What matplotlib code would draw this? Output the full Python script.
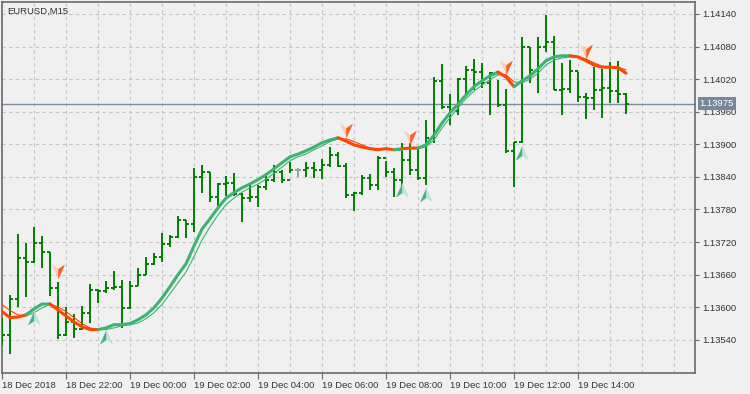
import numpy as np
import matplotlib
matplotlib.use("Agg")
import matplotlib.pyplot as plt
from matplotlib.path import Path
from matplotlib.transforms import blended_transform_factory

# EURUSD M15, 79 bars from 18 Dec 20:00 to 19 Dec 15:30
first_open = 1.13568
highs = [
    1.13581, 1.13623, 1.13735, 1.13719, 1.13748, 1.13732, 1.13702, 1.13647, 1.13601, 1.13588,
    1.13603, 1.13643, 1.13634, 1.13649, 1.13667, 1.13651, 1.13649, 1.13673, 1.13693, 1.13700,
    1.13737, 1.13733, 1.13768, 1.13761, 1.13857, 1.13862, 1.13849, 1.13829, 1.13842, 1.13847,
    1.13811, 1.13825, 1.13825, 1.13847, 1.13862, 1.13853, 1.13868, 1.13857, 1.13868, 1.13868,
    1.13873, 1.13895, 1.13886, 1.13866, 1.13812, 1.13844, 1.13846, 1.13879, 1.13870, 1.13857,
    1.13903, 1.13903, 1.13895, 1.13945, 1.14024, 1.14048, 1.13993, 1.14022, 1.14044, 1.14057,
    1.14050, 1.14033, 1.14019, 1.14002, 1.13905, 1.14098, 1.14079, 1.14098, 1.14138, 1.14100,
    1.14050, 1.14055, 1.14033, 1.13995, 1.14042, 1.14039, 1.14052, 1.14054, 1.13995,
]
lows = [
    1.13531, 1.13514, 1.13601, 1.13619, 1.13682, 1.13673, 1.13621, 1.13542, 1.13548, 1.13544,
    1.13559, 1.13571, 1.13608, 1.13627, 1.13632, 1.13562, 1.13597, 1.13640, 1.13660, 1.13678,
    1.13684, 1.13711, 1.13728, 1.13728, 1.13739, 1.13811, 1.13794, 1.13787, 1.13805, 1.13805,
    1.13757, 1.13794, 1.13785, 1.13816, 1.13831, 1.13829, 1.13847, 1.13840, 1.13840, 1.13838,
    1.13836, 1.13858, 1.13858, 1.13801, 1.13778, 1.13807, 1.13816, 1.13816, 1.13840, 1.13803,
    1.13822, 1.13844, 1.13835, 1.13825, 1.13903, 1.13965, 1.13936, 1.13954, 1.13991, 1.14000,
    1.14004, 1.13954, 1.13969, 1.13884, 1.13822, 1.13903, 1.14013, 1.13995, 1.14070, 1.14000,
    1.13954, 1.13995, 1.13978, 1.13947, 1.13963, 1.13949, 1.13976, 1.13976, 1.13956,
]
closes = [
    1.13549, 1.13616, 1.13691, 1.13684, 1.13719, 1.13702, 1.13636, 1.13549, 1.13573, 1.13560,
    1.13590, 1.13632, 1.13630, 1.13636, 1.13638, 1.13599, 1.13640, 1.13660, 1.13680, 1.13693,
    1.13717, 1.13730, 1.13761, 1.13754, 1.13840, 1.13849, 1.13803, 1.13827, 1.13829, 1.13809,
    1.13801, 1.13803, 1.13822, 1.13835, 1.13849, 1.13835, 1.13853, 1.13853, 1.13857, 1.13853,
    1.13862, 1.13881, 1.13860, 1.13807, 1.13811, 1.13838, 1.13825, 1.13875, 1.13849, 1.13835,
    1.13871, 1.13853, 1.13838, 1.13912, 1.14017, 1.13969, 1.13962, 1.14020, 1.14037, 1.14033,
    1.14013, 1.14031, 1.13973, 1.13888, 1.13905, 1.14079, 1.14037, 1.14079, 1.14089, 1.14000,
    1.14002, 1.14035, 1.13987, 1.13985, 1.14000, 1.14003, 1.13998, 1.13993, 1.13975,
]

# fast (thick) and slow (thin) smoothed averages
ma_fast = [
    1.13592, 1.13581, 1.13582, 1.13586, 1.13597, 1.13606, 1.13606, 1.13595, 1.13584, 1.13573,
    1.13564, 1.13559, 1.13559, 1.13562, 1.13568, 1.13568, 1.13570, 1.13577, 1.13586, 1.13599,
    1.13617, 1.13638, 1.13660, 1.13680, 1.13713, 1.13744, 1.13763, 1.13783, 1.13801, 1.13811,
    1.13820, 1.13827, 1.13835, 1.13844, 1.13855, 1.13866, 1.13877, 1.13882, 1.13888, 1.13895,
    1.13903, 1.13908, 1.13912, 1.13906, 1.13899, 1.13895, 1.13892, 1.13890, 1.13892, 1.13890,
    1.13892, 1.13893, 1.13893, 1.13899, 1.13917, 1.13939, 1.13958, 1.13974, 1.13991, 1.14006,
    1.14017, 1.14026, 1.14033, 1.14024, 1.14006, 1.14017, 1.14026, 1.14039, 1.14054, 1.14061,
    1.14063, 1.14063, 1.14061, 1.14054, 1.14046, 1.14042, 1.14042, 1.14041, 1.14031,
]
ma_slow = [
    1.13605, 1.13594, 1.13586, 1.13584, 1.13590, 1.13599, 1.13605, 1.13601, 1.13592, 1.13581,
    1.13570, 1.13562, 1.13559, 1.13559, 1.13562, 1.13566, 1.13568, 1.13571, 1.13579, 1.13590,
    1.13605, 1.13625, 1.13645, 1.13665, 1.13693, 1.13724, 1.13748, 1.13770, 1.13789, 1.13801,
    1.13812, 1.13820, 1.13827, 1.13836, 1.13847, 1.13858, 1.13870, 1.13877, 1.13882, 1.13890,
    1.13897, 1.13905, 1.13910, 1.13910, 1.13905, 1.13899, 1.13893, 1.13892, 1.13892, 1.13890,
    1.13890, 1.13892, 1.13893, 1.13895, 1.13908, 1.13930, 1.13949, 1.13967, 1.13984, 1.13998,
    1.14009, 1.14019, 1.14028, 1.14028, 1.14015, 1.14013, 1.14020, 1.14031, 1.14046, 1.14055,
    1.14059, 1.14061, 1.14061, 1.14057, 1.14050, 1.14044, 1.14042, 1.14042, 1.14037,
]
# 1 = rising (green) segment ending at this bar, 0 = falling (red)
trend_up = [
    0, 0, 0, 0, 1, 1, 1, 0, 0, 0,
    0, 0, 0, 1, 1, 1, 1, 1, 1, 1,
    1, 1, 1, 1, 1, 1, 1, 1, 1, 1,
    1, 1, 1, 1, 1, 1, 1, 1, 1, 1,
    1, 1, 1, 0, 0, 0, 0, 0, 0, 0,
    1, 0, 0, 1, 1, 1, 1, 1, 1, 1,
    1, 1, 1, 0, 0, 1, 1, 1, 1, 1,
    1, 1, 0, 0, 0, 0, 0, 0, 0,
]

# signal arrows (bar index, price)
sell_idx = [7, 43, 51, 63, 73]
sell_price = [1.13667, 1.13927, 1.13914, 1.14042, 1.14072]
buy_idx = [4, 13, 50, 53, 65]
buy_price = [1.13581, 1.13546, 1.13816, 1.13807, 1.13884]

last_price = 1.13975
price_ticks = [1.13540, 1.13600, 1.13660, 1.13720, 1.13780, 1.13840,
               1.13900, 1.13960, 1.14020, 1.14080, 1.14140]
time_tick_idx = [0, 8, 16, 24, 32, 40, 48, 56, 64, 72]
time_labels = ["18 Dec 2018", "18 Dec 22:00", "19 Dec 00:00", "19 Dec 02:00",
               "19 Dec 04:00", "19 Dec 06:00", "19 Dec 08:00", "19 Dec 10:00",
               "19 Dec 12:00", "19 Dec 14:00"]

BG = "#f0f0f0"
GREEN_MA = "#3cb371"
RED_MA = "#ff4500"
BAR = "#008000"
FRAME = "#6a6a6a"
FS = 6.8


def arrow_paths(up):
    # two halves of an arrowhead, tip at +1 (up) or -1 (down)
    s = 1 if up else -1
    codes = [Path.MOVETO, Path.LINETO, Path.LINETO, Path.CLOSEPOLY]
    left = Path([(0, s * 1.0), (-0.85, -s * 0.9), (0, -s * 0.3), (0, s * 1.0)], codes)
    right = Path([(0, s * 1.0), (0, -s * 0.3), (0.85, -s * 0.9), (0, s * 1.0)], codes)
    return left, right


def main():
    plt.rcParams["font.family"] = ["Liberation Sans", "DejaVu Sans"]
    fig = plt.figure(figsize=(7.5, 3.94), dpi=100, facecolor=BG)
    ax = fig.add_axes([2 / 750, 21 / 394, 693 / 750, 371 / 394])
    ax.set_facecolor(BG)

    n = len(closes)
    idx = np.arange(n)
    opens = np.array([first_open] + closes[:-1])
    cl = np.array(closes)

    ax.set_xlim(0, 693 / 8)
    ax.set_ylim(1.13479, 1.14162)

    # grid
    for gx in range(0, 88, 4):
        ax.axvline(gx, color="#c4c4c4", lw=0.8, ls=(0, (3, 3)), zorder=0)
    for gy in price_ticks:
        ax.axhline(gy, color="#c4c4c4", lw=0.8, ls=(0, (3, 3)), zorder=0)

    # price line
    ax.axhline(last_price, color="#7d8c9a", lw=1.0, zorder=1)

    # bars
    cols = [("#a0a0a0" if np.isclose(o, c) else BAR) for o, c in zip(opens, cl)]
    ax.vlines(idx, lows, highs, colors=cols, lw=1.4, zorder=3)
    ax.hlines(opens, idx - 0.4, idx, colors=cols, lw=1.4, zorder=3)
    ax.hlines(cl, idx, idx + 0.4, colors=cols, lw=1.4, zorder=3)

    # averages, split into colour runs
    fast = np.array(ma_fast)
    slow = np.array(ma_slow)
    start = 0
    for i in range(2, n + 1):
        if i == n or trend_up[i] != trend_up[i - 1]:
            seg = slice(start, i)
            c = GREEN_MA if trend_up[i - 1] else RED_MA
            ax.plot(idx[seg], slow[seg], color=c, lw=0.8, zorder=4,
                    solid_capstyle="round")
            ax.plot(idx[seg], fast[seg], color=c, lw=2.2, zorder=5,
                    solid_capstyle="round", solid_joinstyle="round")
            start = i - 1

    # arrows
    dl, dr = arrow_paths(False)
    ul, ur = arrow_paths(True)
    ms = 10
    ax.plot(sell_idx, sell_price, ls="none", marker=dl, ms=ms, mfc="#ffcbb5",
            mec="#ffcbb5", mew=0.4, zorder=6)
    ax.plot(sell_idx, sell_price, ls="none", marker=dr, ms=ms, mfc="#ff5a1f",
            mec="#ff5a1f", mew=0.4, zorder=6)
    ax.plot(buy_idx, buy_price, ls="none", marker=ul, ms=ms, mfc="#3cb38a",
            mec="#3cb38a", mew=0.4, zorder=6)
    ax.plot(buy_idx, buy_price, ls="none", marker=ur, ms=ms, mfc="#bfe5d4",
            mec="#bfe5d4", mew=0.4, zorder=6)

    # frame and axes
    for sp in ax.spines.values():
        sp.set_color(FRAME)
        sp.set_linewidth(1.2)
    ax.yaxis.tick_right()
    ax.set_yticks(price_ticks)
    ax.set_yticklabels([f"{p:.5f}" for p in price_ticks])
    ax.tick_params(axis="y", direction="out", length=3, width=0.8, color=FRAME,
                   labelsize=FS, labelcolor="#333333", pad=2)
    ax.set_xticks(time_tick_idx)
    ax.set_xticklabels(time_labels)
    for lab in ax.get_xticklabels():
        lab.set_ha("left")
    ax.tick_params(axis="x", direction="out", length=4, width=0.8, color=FRAME,
                   labelsize=FS, labelcolor="#333333", pad=1.5)

    # last price tag
    tr = blended_transform_factory(ax.transAxes, ax.transData)
    ax.text(1.0065, last_price, f"{last_price:.5f}", transform=tr, fontsize=FS,
            color="white", va="center", ha="left", zorder=10, clip_on=False,
            bbox=dict(boxstyle="square,pad=0.2", fc="#76889a", ec="none"))

    ax.text(0.007, 0.988, "EURUSD,M15", transform=ax.transAxes, fontsize=FS,
            color="#333333", va="top", ha="left")

    fig.savefig("out.png", dpi=100, facecolor=BG)


if __name__ == "__main__":
    main()
